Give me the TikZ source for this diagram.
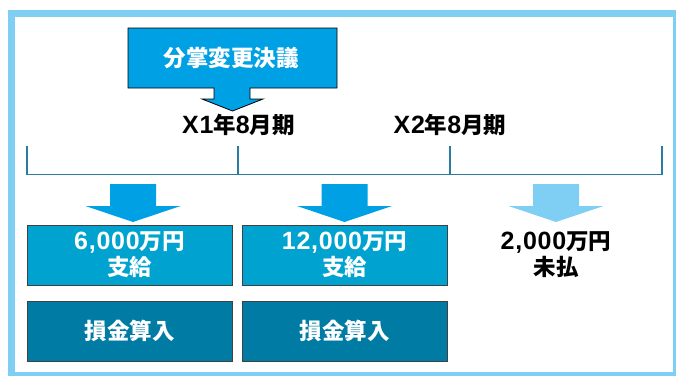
\documentclass[tikz,border=0pt]{standalone}
\usepackage{fontspec}
\setmainfont{Noto Sans CJK JP}
\newfontfamily\lat{Liberation Sans}
\definecolor{frameblue}{RGB}{127,206,244}
\definecolor{mainblue}{RGB}{0,160,228}
\definecolor{boxblue}{RGB}{0,163,208}
\definecolor{darkblue}{RGB}{0,123,163}
\definecolor{lineblue}{RGB}{40,125,160}
\newcommand{\la}[1]{{\lat\fontsize{25}{26}\selectfont\addfontfeatures{LetterSpace=3}#1}}
\tikzset{
  lbl/.style={font=\fontsize{22.5}{26}\selectfont\bfseries, align=center, inner sep=0pt},
  whitelbl/.style={lbl, text=white},
  paybox/.style={draw=black!75, line width=0.8pt, fill=boxblue, minimum width=205pt, minimum height=60pt, inner sep=0pt},
  lossbox/.style={draw=black!75, line width=0.8pt, fill=darkblue, minimum width=205pt, minimum height=60pt, inner sep=0pt},
  tl/.style={draw=lineblue, line width=1.2pt},
}
\newcommand{\blockarrow}[3]{% x, color, name
  \fill[#2] (#1-23,184) -- (#1+23,184) -- (#1+23,206) -- (#1+47.5,206) -- (#1,222) -- (#1-47.5,206) -- (#1-23,206) -- cycle;
}
\begin{document}
\begin{tikzpicture}[x=1pt,y=-1pt]
\useasboundingbox (0,0) rectangle (676,375);
\clip (0,0) rectangle (676,375);
% frame
\draw[frameblue, line width=7pt] (11.5,13) rectangle (676.5,375.5);
% decision box with arrow
\draw[fill=mainblue, draw=black, line width=0.8pt]
  (128,28) -- (337,28) -- (337,88) -- (250,88) -- (250,99) -- (263,99) -- (232.5,111)
  -- (202,99) -- (214,99) -- (214,88) -- (128,88) -- cycle;
\node[whitelbl] (dec) at (231,57.5) {分掌変更決議};
% period labels
\node[lbl] (p1) at (238.5,125) {\la{X1}年\la{8}月期};
\node[lbl] (p2) at (450,125) {\la{X2}年\la{8}月期};
% timeline
\coordinate (t0) at (27,174.5);
\coordinate (t1) at (238,174.5);
\coordinate (t2) at (450,174.5);
\coordinate (t3) at (662,174.5);
\draw[tl] (t0) -- (t3);
\foreach \t in {t0,t1,t2,t3} \draw[tl] (\t) -- ++(0,-28.5);
% arrows
\blockarrow{133}{mainblue}{a1}
\blockarrow{344.5}{mainblue}{a2}
\blockarrow{556}{frameblue}{a3}
% boxes
\node[paybox] (b1) at (129.5,255) {};
\node[whitelbl] at (b1) {\la{6,000}万円\\支給};
\node[paybox] (b2) at (344.5,255) {};
\node[whitelbl] at (b2) {\la{12,000}万円\\支給};
\node[lossbox] (c1) at (129.5,331) {};
\node[whitelbl] at (c1) {損金算入};
\node[lossbox] (c2) at (344.5,331) {};
\node[whitelbl] at (c2) {損金算入};
\node[lbl] (u) at (556,255) {\la{2,000}万円\\未払};
\end{tikzpicture}
\end{document}
